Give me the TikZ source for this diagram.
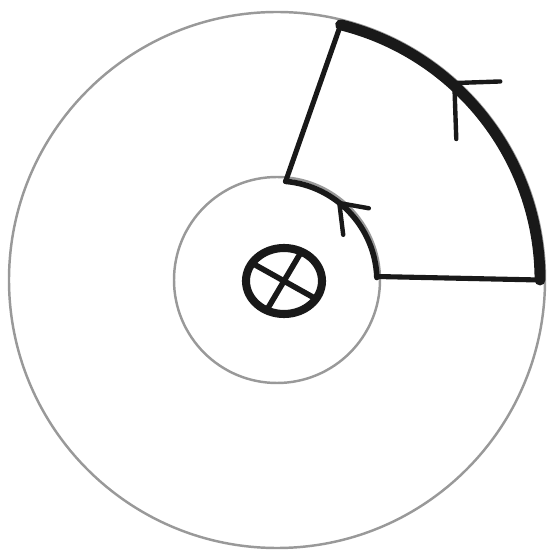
\documentclass[tikz,border=0pt]{standalone}
\usetikzlibrary{calc}
\begin{document}
\begin{tikzpicture}[
    x=0.02cm, y=0.02cm,
    ring/.style={draw=gray!80, line width=1.4pt},
    loopline/.style={draw=black!90, line width=2.9pt, line cap=round, line join=round},
    heavy/.style={loopline, line width=6.2pt},
    barb/.style={draw=black!90, line width=2.5pt, line cap=round, line join=round},
    wire/.style={draw=black!90, line width=4.6pt},
]
\useasboundingbox (0,0) rectangle (548,558);

% Centre and the two circles
\coordinate (O) at (277,278);
\draw[ring] (O) circle[radius=268];
\draw[ring] (O) circle[radius=103];

% Wire into the page
\coordinate (W) at (284,277);
\draw[wire] (W) ellipse[x radius=38, y radius=33];
\draw[wire, line width=3.2pt] ($(W)+(147:36 and 31)$) -- ($(W)+(-33:36 and 31)$);
\draw[wire, line width=3.2pt] ($(W)+(63:36 and 31)$) -- ($(W)+(243:36 and 31)$);

% Integration path
\coordinate (A) at ($(O)+(2:100)$);
\coordinate (B) at ($(O)+(0:263)$);
\coordinate (C) at ($(O)+(76:263)$);
\coordinate (D) at ($(O)+(85:99)$);
\draw[loopline] (A) -- (B);
\draw[heavy] (B) arc[start angle=0, end angle=76, radius=263];
\draw[loopline] (C) -- (D);
\draw[loopline, line width=3.2pt] (D) arc[start angle=85, end angle=2, radius=100];

% Arrow barbs
\coordinate (T1) at ($(O)+(48:265)$);
\coordinate (T1a) at ($(T1)+(2:46)$);
\coordinate (T1b) at ($(T1)+(-88:56)$);
\draw[barb] (T1a) -- (T1) -- (T1b);
\coordinate (T2) at ($(O)+(51:99)$);
\coordinate (T2a) at ($(T2)+(-10:30)$);
\coordinate (T2b) at ($(T2)+(-83:32)$);
\draw[barb] (T2a) -- (T2) -- (T2b);

\end{tikzpicture}
\end{document}
